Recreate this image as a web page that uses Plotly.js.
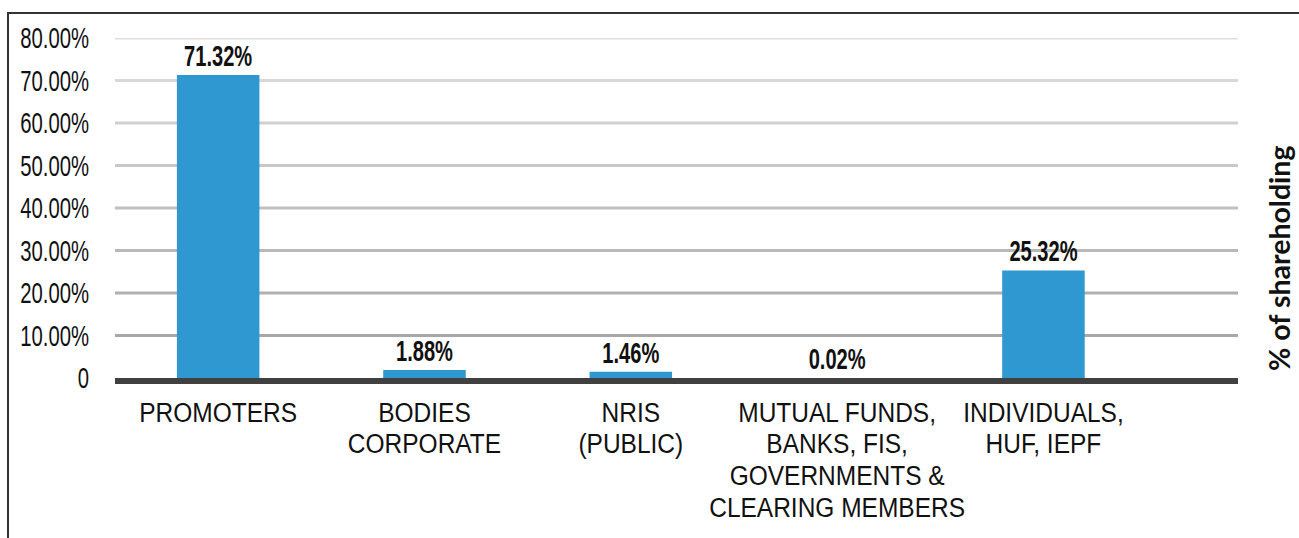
<!DOCTYPE html>
<html>
<head>
<meta charset="utf-8">
<script src="https://cdn.plot.ly/plotly-3.0.1.min.js"></script>
<style>
  html, body { margin: 0; padding: 0; background: #ffffff; }
  #wrap { position: relative; width: 1299px; height: 538px; overflow: hidden; }
  #chart { position: absolute; left: 0; top: 0; width: 1299px; height: 538px; }
  #frame { position: absolute; left: 7px; top: 12px; width: 1400px; height: 600px;
           border-left: 2px solid #333333; border-top: 2px solid #333333; pointer-events: none; }
</style>
</head>
<body>
<div id="wrap">
  <div id="chart"></div>
  <div id="frame"></div>
</div>
<script>
// ---- data ----
const categories = [
  "PROMOTERS",
  "BODIES<br>CORPORATE",
  "NRIS<br>(PUBLIC)",
  "MUTUAL FUNDS,<br>BANKS, FIS,<br>GOVERNMENTS &amp;<br>CLEARING MEMBERS",
  "INDIVIDUALS,<br>HUF, IEPF"
];
const shareholding = [71.32, 1.88, 1.46, 0.02, 25.32];
const valueLabels = ["71.32%", "1.88%", "1.46%", "0.02%", "25.32%"];
const yTickValues = [0, 10, 20, 30, 40, 50, 60, 70, 80];
const yTickLabels = ["0", "10.00%", "20.00%", "30.00%", "40.00%", "50.00%", "60.00%", "70.00%", "80.00%"];
const axisTitle = "% of shareholding";

// ---- style ----
const SANS = "Liberation Sans, Arial, sans-serif";
const xIdx = categories.map((_, i) => i);

function gridGray(v) {
  const g = Math.round(160 + 0.8 * v);
  return "rgb(" + g + "," + g + "," + g + ")";
}
const gridShapes = yTickValues.filter(v => v > 0).map(v => ({
  type: "line", xref: "paper", yref: "y", x0: 0, x1: 1, y0: v, y1: v,
  line: { color: gridGray(v), width: 3 }, layer: "below"
}));

const trace = {
  type: "bar",
  x: xIdx,
  y: shareholding,
  width: 0.4,
  marker: { color: "#2f98d0" },
  text: valueLabels,
  textposition: "outside",
  constraintext: "none",
  textfont: { family: SANS, size: 30, color: "#111111", weight: "bold" },
  cliponaxis: false,
  hoverinfo: "skip"
};

const layout = {
  width: 1299, height: 538,
  margin: { l: 115, r: 61, t: 38, b: 160, pad: 0 },
  paper_bgcolor: "rgba(0,0,0,0)",
  plot_bgcolor: "rgba(0,0,0,0)",
  showlegend: false,
  xaxis: {
    range: [-0.5, 4.943],
    tickmode: "array", tickvals: xIdx, ticktext: categories,
    showgrid: false, zeroline: false,
    showline: true, linecolor: "#404040", linewidth: 6,
    ticks: "", ticklabelstandoff: 4,
    tickfont: { family: SANS, size: 28, color: "#111111" },
    tickangle: 0
  },
  yaxis: {
    range: [0, 80],
    tickmode: "array", tickvals: yTickValues, ticktext: yTickLabels,
    showgrid: false, zeroline: false, showline: false,
    ticks: "", ticklabelstandoff: 25,
    tickfont: { family: SANS, size: 29, color: "#111111" }
  },
  shapes: gridShapes,
  annotations: [{
    text: axisTitle,
    xref: "paper", yref: "paper",
    x: (1279 - 115) / 1123, y: 0.35,
    xanchor: "center", yanchor: "middle",
    textangle: -90, showarrow: false,
    font: { family: "Lato, Open Sans, sans-serif", size: 28.5, color: "#111111", weight: "bold" }
  }]
};

// Narrow the label glyphs horizontally (the reference uses a condensed face)
function condense(selector, sx, anchor, lineRatio) {
  document.querySelectorAll(selector).forEach(t => {
    if (lineRatio) {
      t.querySelectorAll("tspan.line").forEach(ts => {
        const dy = ts.getAttribute("dy");
        if (dy && /em$/.test(dy)) ts.setAttribute("dy", (parseFloat(dy) * lineRatio) + "em");
      });
    }
    const b = t.getBBox();
    const ax = anchor === "end" ? b.x + b.width : anchor === "start" ? b.x : b.x + b.width / 2;
    const orig = t.getAttribute("transform") || "";
    t.setAttribute("transform", orig + " translate(" + ax + ",0) scale(" + sx + ",1) translate(" + (-ax) + ",0)");
  });
}

Plotly.newPlot("chart", [trace], layout, { staticPlot: true, displayModeBar: false }).then(() => {
  condense("#chart .ytick text", 0.70, "end");
  condense("#chart .xtick text", 0.875, "middle", 0.87);
  condense("#chart .trace.bars text", 0.67, "middle");
});
</script>
</body>
</html>
